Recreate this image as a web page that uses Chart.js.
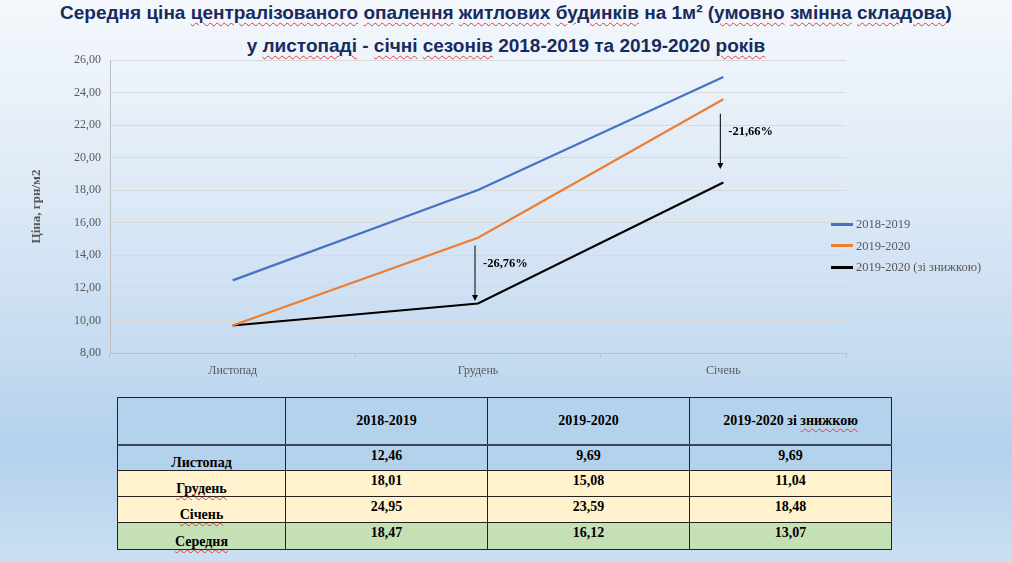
<!DOCTYPE html>
<html>
<head>
<meta charset="utf-8">
<script src="https://cdn.jsdelivr.net/npm/chart.js@4.4.0/dist/chart.umd.min.js"></script>
<style>
	html, body { margin:0; padding:0; }
	body {
		width:1012px; height:562px; overflow:hidden; position:relative;
		background: linear-gradient(180deg, #f4f8fc 0%, #dde9f6 35%, #c3daf0 65%, #b4d1ec 80%, #cadff2 100%);
		font-family: "Liberation Serif", "DejaVu Serif", serif;
	}
	.title {
		position:absolute; left:0; width:1012px; text-align:center;
		font-family:"Liberation Sans", Arial, sans-serif; font-weight:bold;
		font-size:19px; color:#172b5e; white-space:nowrap;
	}
	.sp { text-decoration: underline wavy #e03c3c; text-decoration-thickness:1px; text-underline-offset:3px; }
	#chartBox { position:absolute; left:0; top:0; width:1012px; height:380px; }
	#legend { position:absolute; left:831px; top:214px; font-size:12.5px; color:#595959; }
	#legend div { height:21.5px; line-height:21.5px; white-space:nowrap; }
	#legend span.ln { display:inline-block; width:22px; height:3px; vertical-align:middle; margin-right:3px; position:relative; top:-1px; }
	table {
		position:absolute; left:117px; top:397px; border-collapse:collapse;
		font-weight:bold; font-size:14px; color:#000;
	}
	td { border:1px solid #222; text-align:center; padding:0; }
	tr.head td { height:46px; background:#b4d2ec; border-bottom:2px solid #3a4658; }
	tr.head td.c { vertical-align:middle; }
	td.name { vertical-align:bottom; line-height:15px; }
	td.val { vertical-align:top; line-height:20px; }
</style>
</head>
<body>
<div class="title" style="top:2px;">Середня ціна <span class="sp">централізованого</span> <span class="sp">опалення</span> <span class="sp">житлових</span> <span class="sp">будинків</span> на 1м² (<span class="sp">умовно</span> <span class="sp">змінна</span> <span class="sp">складова</span>)</div>
<div class="title" style="top:35px;">у <span class="sp">листопаді</span> - <span class="sp">січні</span> <span class="sp">сезонів</span> 2018-2019 та 2019-2020 <span class="sp">років</span></div>
<div id="chartBox"><canvas id="priceChart"></canvas></div>
<div id="legend"></div>
<table id="priceTable"></table>
<script>
// дані з графіка
var months = ['Листопад', 'Грудень', 'Січень'];
var tableMonths = ['Листопад', 'Грудень', 'Січень', 'Середня'];
var price1819 = [12.46, 18.01, 24.95];
var price1920 = [9.69, 15.08, 23.59];
var price1920disc = [9.69, 11.04, 18.48];
var avgPrice = [18.47, 16.12, 13.07];
var seriesNames = ['2018-2019', '2019-2020', '2019-2020 (зі знижкою)'];
var tableHeads = ['2018-2019', '2019-2020', '2019-2020 зі знижкою'];
var seriesColors = ['#4472c4', '#ed7d31', '#000000'];
var rowColors = ['#b4d2ec', '#fff2cc', '#fff2cc', '#c5e0b4'];
// стрілки зі знижкою
var arrowMonth = [1, 2];
var arrowFrom = [14.6, 22.7];
var arrowTo = [11.2, 19.3];
var arrowText = ['-26,76%', '-21,66%'];

function fmt(v){
	return v.toFixed(2).replace('.', ',');
}

var arrowsPlugin = {
	id: 'arrows',
	afterDatasetsDraw: function(chart){
		var ctx = chart.ctx;
		var x = chart.scales.x, y = chart.scales.y;
		ctx.save();
		for(var i=0; i<arrowMonth.length; i++){
			var px = x.getPixelForValue(arrowMonth[i]) - 3;
			var y1 = y.getPixelForValue(arrowFrom[i]);
			var y2 = y.getPixelForValue(arrowTo[i]);
			ctx.strokeStyle = '#000';
			ctx.fillStyle = '#000';
			ctx.lineWidth = 1;
			ctx.beginPath();
			ctx.moveTo(px, y1);
			ctx.lineTo(px, y2 - 5);
			ctx.stroke();
			ctx.beginPath();
			ctx.moveTo(px - 3, y2 - 6);
			ctx.lineTo(px + 3, y2 - 6);
			ctx.lineTo(px, y2);
			ctx.closePath();
			ctx.fill();
			ctx.font = 'bold 12.5px "Liberation Serif"';
			ctx.textBaseline = 'middle';
			ctx.textAlign = 'left';
			ctx.fillText(arrowText[i], px + 8, y1 + (y2 - y1) * 0.33);
		}
		ctx.restore();
	}
};

var series = [price1819, price1920, price1920disc];
var datasets = [];
for(var i=0; i<series.length; i++){
	datasets.push({
		label: seriesNames[i],
		data: series[i],
		borderColor: seriesColors[i],
		backgroundColor: seriesColors[i],
		borderWidth: 2.2,
		pointRadius: 0,
		tension: 0
	});
}

Chart.defaults.font.family = '"Liberation Serif", serif';
Chart.defaults.color = '#595959';

const myChart = new Chart(document.getElementById('priceChart'), {
	type: 'line',
	data: { labels: months, datasets: datasets },
	plugins: [arrowsPlugin],
	options: {
		responsive: true,
		maintainAspectRatio: false,
		animation: false,
		layout: { padding: { top: 60, right: 166, left: 29, bottom: 0 } },
		plugins: {
			legend: { display: false },
			tooltip: { enabled: false }
		},
		scales: {
			x: {
				offset: true,
				grid: { offset: true, drawOnChartArea: false, color: '#bfbfbf', tickLength: 5 },
				border: { color: '#bfbfbf' },
				ticks: { font: { size: 12 }, padding: 6 },
				afterFit: function(s){ s.height = 27; }
			},
			y: {
				min: 8,
				max: 26,
				ticks: { stepSize: 2, font: { size: 12 }, padding: 9, callback: function(v){ return fmt(v); } },
				grid: { color: '#d9d9d9', drawTicks: false },
				border: { color: '#bfbfbf' },
				title: { display: true, text: 'Ціна, грн/м2', font: { size: 13, weight: 'bold' }, padding: 0 },
				afterFit: function(s){ s.width = 81; }
			}
		}
	}
});

// легенда
var legendHtml = '';
for(var i=0; i<seriesNames.length; i++){
	legendHtml += '<div><span class="ln" style="background:' + seriesColors[i] + '"></span>' + seriesNames[i] + '</div>';
}
document.getElementById('legend').innerHTML = legendHtml;

// таблиця
var widths = [167, 201, 201, 201];
var rowHeights = [25, 26, 26, 27];
var underlineHead = '2019-2020 зі <span class="sp">знижкою</span>';
var html = '<tr class="head"><td style="width:' + widths[0] + 'px"></td>';
for(var j=0; j<tableHeads.length; j++){
	var h = j == 2 ? underlineHead : tableHeads[j];
	html += '<td class="c" style="width:' + widths[j+1] + 'px">' + h + '</td>';
}
html += '</tr>';
var allSeries = [price1819, price1920, price1920disc];
for(var r=0; r<tableMonths.length; r++){
	var nm = r == 0 ? tableMonths[r] : '<span class="sp">' + tableMonths[r] + '</span>';
	html += '<tr style="background:' + rowColors[r] + ';height:' + rowHeights[r] + 'px"><td class="name">' + nm + '</td>';
	for(var c=0; c<3; c++){
		var v = r < 3 ? allSeries[c][r] : avgPrice[c];
		html += '<td class="val">' + fmt(v) + '</td>';
	}
	html += '</tr>';
}
document.getElementById('priceTable').innerHTML = html;
</script>
</body>
</html>
